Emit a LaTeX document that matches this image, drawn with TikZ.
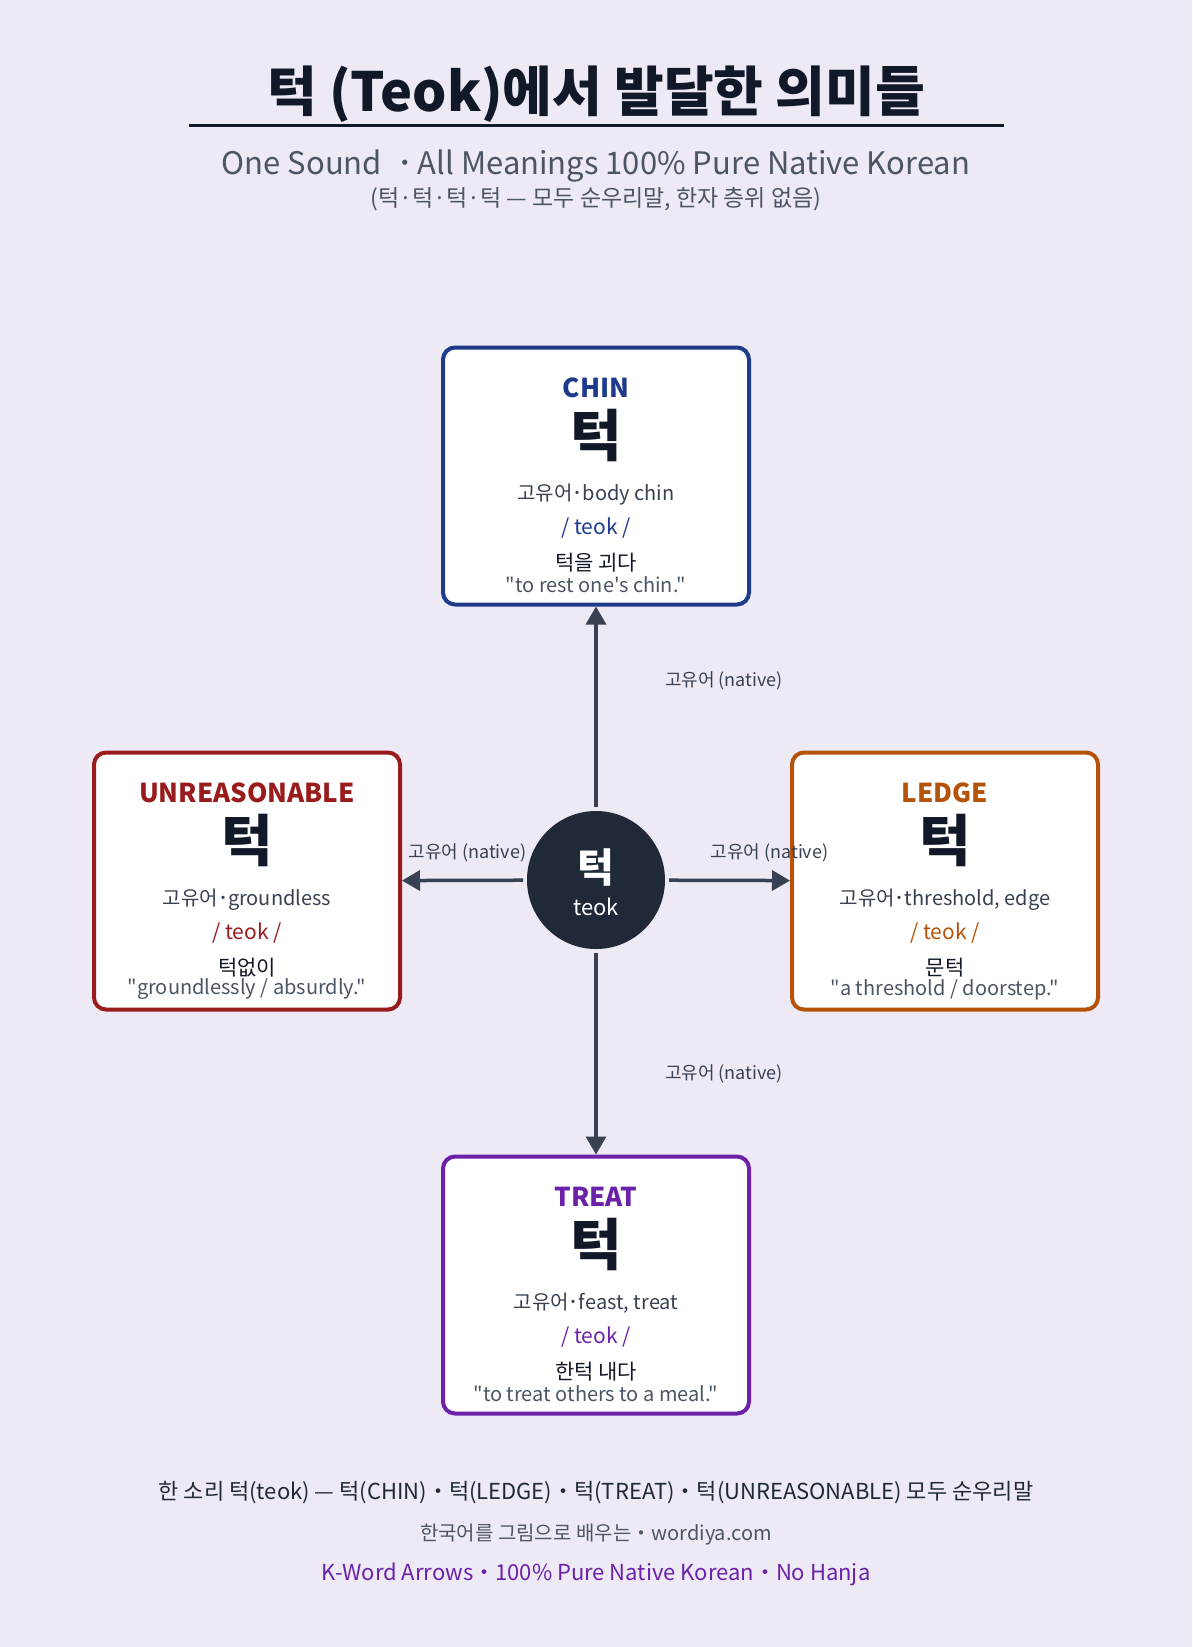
\documentclass[tikz,border=0pt]{standalone}
\usepackage{fontspec}
\setmainfont{Noto Sans CJK KR}[Ligatures=TeXOff]
\usetikzlibrary{arrows.meta,positioning}

\definecolor{bgcol}{HTML}{EDE9F5}
\definecolor{ink}{HTML}{111827}
\definecolor{hubcol}{HTML}{1F2937}
\definecolor{edgecol}{HTML}{374151}
\definecolor{greytxt}{HTML}{4B5563}
\definecolor{chincol}{HTML}{1E3A8A}
\definecolor{ledgecol}{HTML}{B45309}
\definecolor{treatcol}{HTML}{6B21A8}
\definecolor{unreacol}{HTML}{991B1B}

\tikzset{
  mbox/.style={rectangle,rounded corners=12pt,line width=4pt,fill=white,
    minimum width=306pt,minimum height=257pt},
  head/.style={font=\bfseries\fontsize{26}{30}\selectfont},
  bigchar/.style={font=\bfseries\fontsize{56}{60}\selectfont,text=ink},
  gloss/.style={font=\fontsize{20}{24}\selectfont,text=edgecol},
  pron/.style={font=\fontsize{21}{25}\selectfont},
  example/.style={font=\fontsize{21}{24}\selectfont,text=ink},
  quote/.style={font=\fontsize{20}{24}\selectfont,text=greytxt},
  conn/.style={line width=3.5pt,draw=edgecol,-{Triangle[length=18pt,width=20pt]}},
  lbl/.style={font=\fontsize{18}{22}\selectfont,text=edgecol},
}

% one meaning card: name, x, y, colour, head, gloss, example, quote
\newcommand{\meaningcard}[8]{
  \node[mbox,draw=#4] (#1) at (#2,#3) {};
  \node[head,text=#4] (#1-head) at ([yshift=-42pt]#1.north) {#5};
  \node[bigchar] (#1-char) at ([yshift=-90pt]#1.north) {턱};
  \node[gloss] (#1-gloss) at ([yshift=-149pt]#1.north) {#6};
  \node[pron,text=#4] (#1-pron) at ([yshift=-183pt]#1.north) {/ teok /};
  \node[example] (#1-ex) at ([yshift=-217pt]#1.north) {#7};
  \node[quote] (#1-quote) at ([yshift=-239pt]#1.north) {#8};
}

\begin{document}
\begin{tikzpicture}[x=1pt,y=-1pt]
  \fill[bgcol] (0,0) rectangle (1192,1647);
  \useasboundingbox (0,0) rectangle (1192,1647);

  % title
  \node[font=\bfseries\fontsize{54}{60}\selectfont,text=ink] (title) at (596,94) {턱 (Teok)에서 발달한 의미들};
  \coordinate (rule-l) at (189,125);
  \coordinate (rule-r) at (1004,125);
  \draw[ink,line width=3pt] (rule-l) -- (rule-r);
  \node[font=\fontsize{31}{35}\selectfont,text=greytxt] (subtitle) at (596,166) {One Sound\hspace{0.5em}･\hspace{0.15em}All Meanings 100\% Pure Native Korean};
  \node[font=\fontsize{23}{27}\selectfont,text=greytxt] (subtitle2) at (596,199) {(턱·턱·턱·턱 — 모두 순우리말, 한자 층위 없음)};

  % cards
  \meaningcard{chin}{596}{476}{chincol}{CHIN}{고유어･body chin}{턱을 괴다}{"to rest one's chin."}
  \meaningcard{unrea}{247}{881}{unreacol}{UNREASONABLE}{고유어･groundless}{턱없이}{"groundlessly / absurdly."}
  \meaningcard{ledge}{945}{881}{ledgecol}{LEDGE}{고유어･threshold, edge}{문턱}{"a threshold / doorstep."}
  \meaningcard{treat}{596}{1285}{treatcol}{TREAT}{고유어･feast, treat}{한턱 내다}{"to treat others to a meal."}

  % hub
  \node[circle,fill=hubcol,minimum size=138pt,inner sep=0pt,outer sep=4pt] (hub) at (596,880) {};
  \node[font=\bfseries\fontsize{40}{44}\selectfont,text=white] (hub-char) at (596,867) {턱};
  \node[font=\fontsize{22}{26}\selectfont,text=white] (hub-rom) at (596,907) {teok};

  % connectors
  \draw[conn] (hub) -- (chin) node[lbl,pos=0.63,xshift=128pt] {고유어 (native)};
  \draw[conn] (hub) -- (treat) node[lbl,pos=0.6,xshift=128pt] {고유어 (native)};
  \draw[conn] (hub) -- (unrea) node[lbl,pos=0.46,yshift=28pt] {고유어 (native)};
  \draw[conn] (hub) -- (ledge) node[lbl,pos=0.83,yshift=28pt] {고유어 (native)};

  % footer
  \node[font=\fontsize{22}{26}\selectfont,text=hubcol] (foot1) at (596,1493) {한 소리 턱(teok) — 턱(CHIN)・턱(LEDGE)・턱(TREAT)・턱(UNREASONABLE) 모두 순우리말};
  \node[font=\fontsize{20}{24}\selectfont,text=greytxt] (foot2) at (596,1535) {한국어를 그림으로 배우는・wordiya.com};
  \node[font=\fontsize{22}{26}\selectfont,text=treatcol] (foot3) at (596,1574) {K-Word Arrows・100\% Pure Native Korean・No Hanja};
\end{tikzpicture}
\end{document}
